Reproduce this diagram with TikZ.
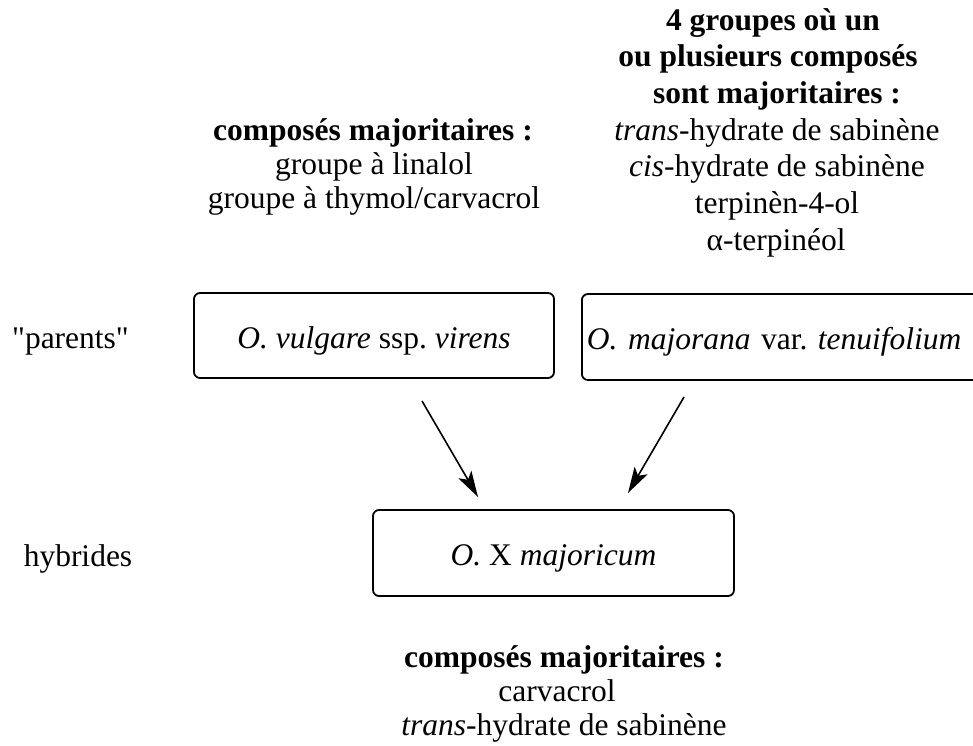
\documentclass[tikz,border=0pt]{standalone}
\usepackage{fontspec}
\setmainfont{Liberation Serif}[Ligatures=TeXOff]
\usetikzlibrary{arrows.meta}
\begin{document}
\begin{tikzpicture}[x=1pt,y=-1pt,
  txt/.style={font=\fontsize{31.5pt}{36pt}\selectfont\frenchspacing, inner sep=0pt, anchor=base},
  bx/.style={draw, line width=1.8pt, rounded corners=6pt, font=\fontsize{31.5pt}{36pt}\selectfont\frenchspacing, inner sep=0pt, text height=25pt, text depth=0pt},
  arr/.style={line width=1.6pt, -{Stealth[length=26pt,width=15pt,inset=6pt]}}]
\clip (0,0) rectangle (973,745);
% top left block
\node[txt] (tl1) at (373,140) {\textbf{composés majoritaires :}};
\node[txt] (tl2) at (374,174) {groupe à linalol};
\node[txt] (tl3) at (374,208) {groupe à thymol/carvacrol};
% top right block
\node[txt] (tr1) at (773,30) {\textbf{4 groupes où un}};
\node[txt] (tr2) at (768,66.7) {\textbf{ou plusieurs composés}};
\node[txt] (tr3) at (777,103.3) {\textbf{sont majoritaires :}};
\node[txt] (tr4) at (777,140) {\textit{trans}-hydrate de sabinène};
\node[txt] (tr5) at (777,176.7) {\textit{cis}-hydrate de sabinène};
\node[txt] (tr6) at (777,213.3) {terpinèn-4-ol};
\node[txt] (tr7) at (776,250) {α-terpinéol};
% left labels
\node[txt] (lp) at (70.5,348) {"parents"};
\node[txt] (lh) at (78,566) {hybrides};
% boxes
\node[bx, minimum width=360pt, minimum height=85pt] (b1) at (374,335.5) {\textit{O. vulgare} ssp. \textit{virens}};
\node[bx, anchor=west, minimum height=86pt, text width=400pt, align=left, inner xsep=5pt] (b2) at (581,337) {\textit{O. majorana} var. \textit{tenuifolium}};
\node[bx, minimum width=361pt, minimum height=86pt] (hyb) at (553.5,553) {\textit{O.} X \textit{majoricum}};
% arrows
\coordinate (a1s) at (422,401);
\coordinate (a1e) at (478,497);
\coordinate (a2s) at (684,397);
\coordinate (a2e) at (628,493);
\draw[arr] (a1s) -- (a1e);
\draw[arr] (a2s) -- (a2e);
% bottom block
\node[txt] (bt1) at (564,667) {\textbf{composés majoritaires :}};
\node[txt] (bt2) at (557,701) {carvacrol};
\node[txt] (bt3) at (564,735) {\textit{trans}-hydrate de sabinène};
\end{tikzpicture}
\end{document}
